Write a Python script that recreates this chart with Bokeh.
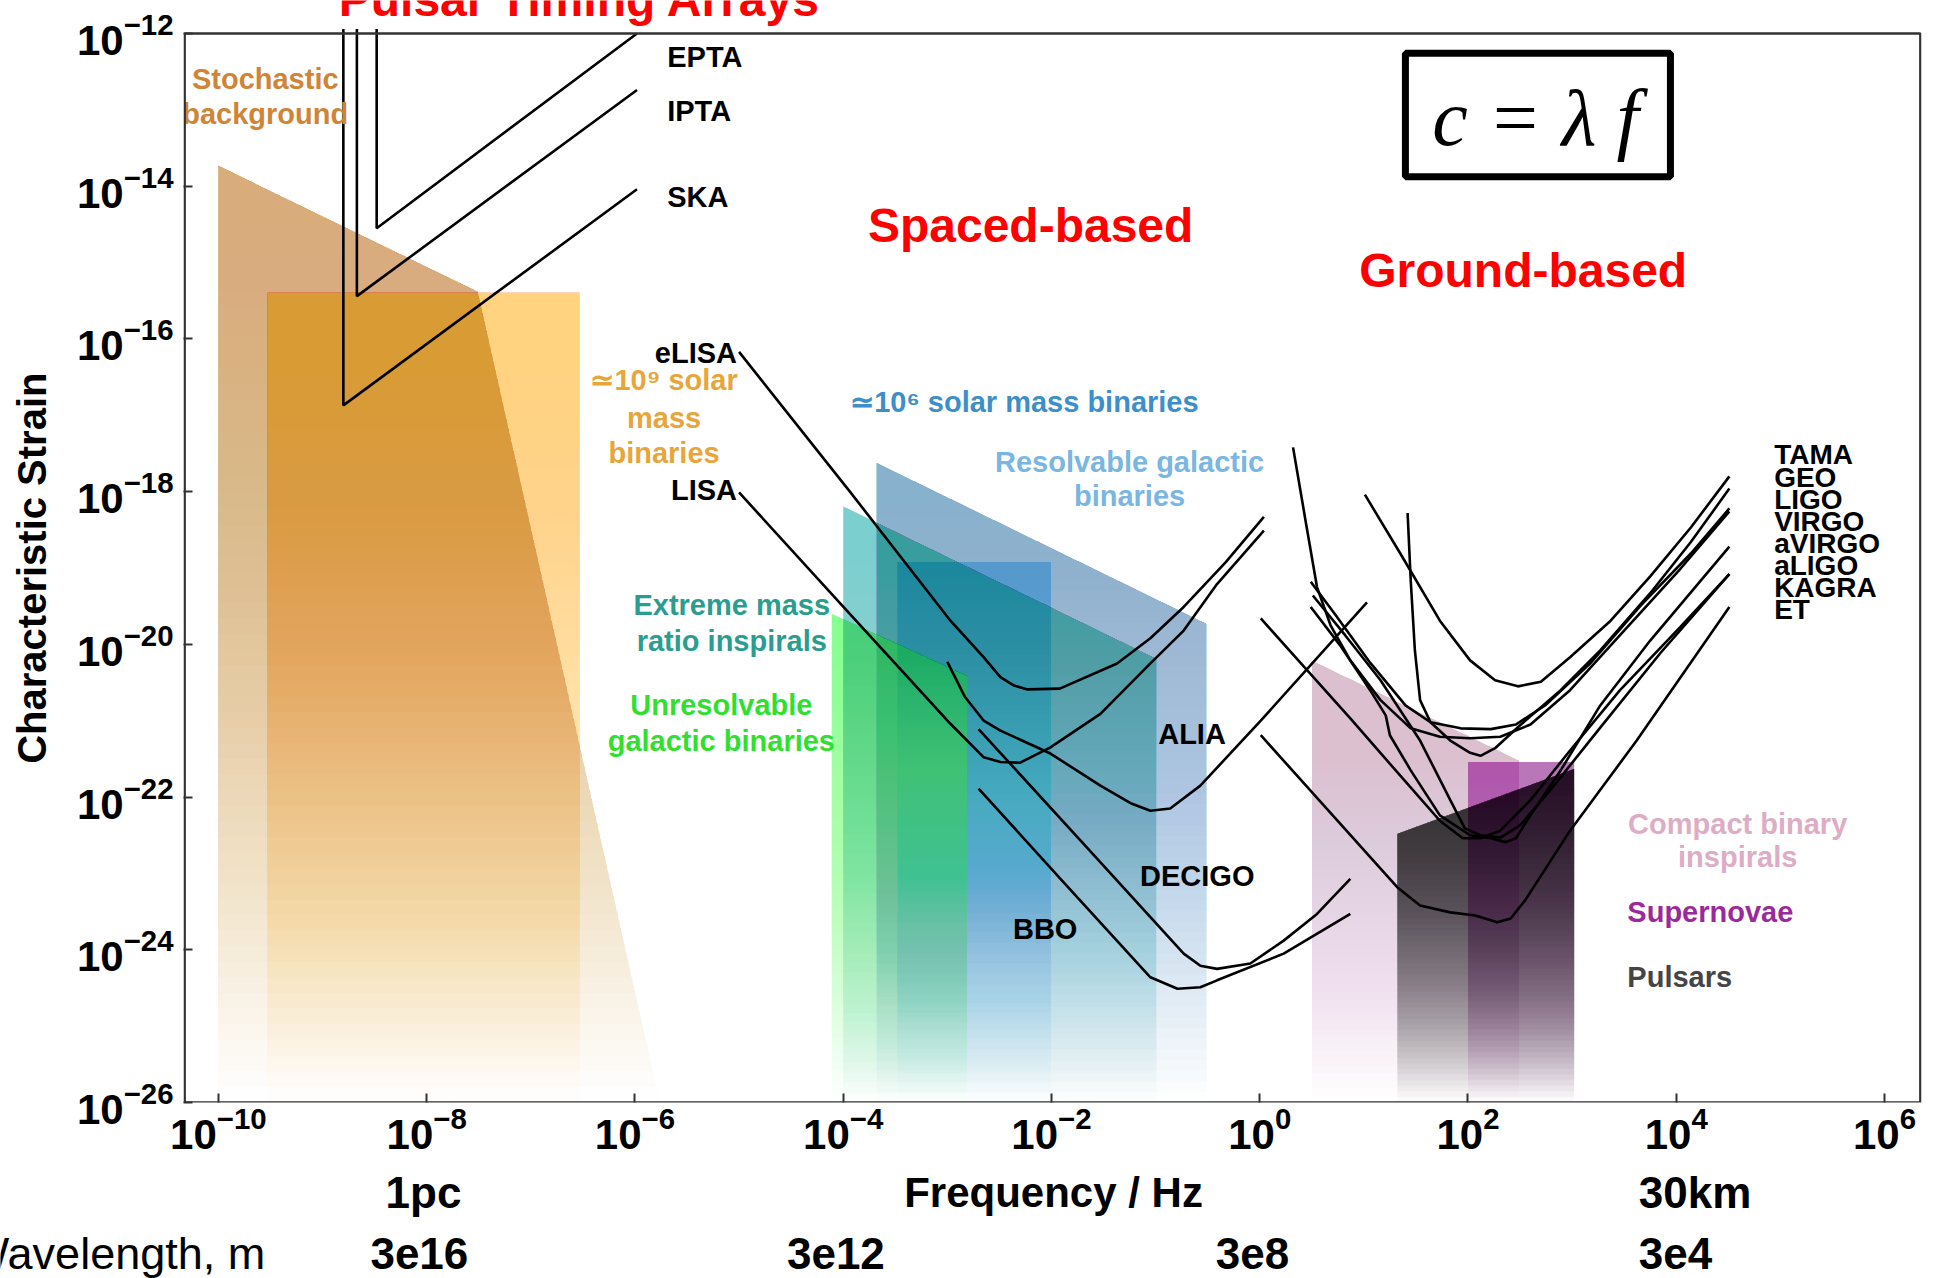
import numpy as np
from bokeh.plotting import figure
from bokeh.layouts import column
from bokeh.models import Label, BoxAnnotation, FixedTicker, Range1d, ColumnDataSource
from bokeh.embed import file_html
from bokeh.resources import INLINE

# ---------------- data: log10(frequency / Hz), log10(characteristic strain) -------------
X_RANGE_LOG = (-10.335, 6.355)      # plotted box
Y_RANGE_LOG = (-26.0, -12.0)
X_TICKS_LOG = [-10, -8, -6, -4, -2, 0, 2, 4, 6]
Y_TICKS_LOG = [-26, -24, -22, -20, -18, -16, -14, -12]

# source regions (polygons, bottom at the axis floor)
STOCH_F = [-10.0, -7.51, -5.76, -10.0]
STOCH_H = [-13.73, -15.38, -26.0, -26.0]
SMBH9_F = [-9.53, -6.53, -6.53, -9.53]
SMBH9_H = [-15.39, -15.39, -26.0, -26.0]
SMBH6_F = [-3.68, -0.51, -0.51, -3.68]
SMBH6_H = [-17.62, -19.73, -26.0, -26.0]
RGB_F = [-3.48, -2.00, -2.00, -3.48]
RGB_H = [-18.92, -18.92, -26.0, -26.0]
EMRI_F = [-4.00, -0.99, -0.99, -4.00]
EMRI_H = [-18.19, -20.19, -26.0, -26.0]
UGB_F = [-4.11, -2.81, -2.81, -4.11]
UGB_H = [-19.60, -20.41, -26.0, -26.0]
CBI_F = [0.50, 2.49, 2.49, 0.50]
CBI_H = [-20.21, -21.52, -26.0, -26.0]
SN_F = [2.00, 3.02, 3.02, 2.00]
SN_H = [-21.54, -21.54, -26.0, -26.0]
PSR_F = [1.32, 3.02, 3.02, 1.32]
PSR_H = [-22.48, -21.63, -26.0, -26.0]

# pulsar timing arrays
EPTA_F = [-8.48, -8.48, -5.98]
EPTA_H = [-11.94, -14.55, -12.0]
IPTA_F = [-8.67, -8.67, -5.98]
IPTA_H = [-11.94, -15.44, -12.74]
SKA_F = [-8.80, -8.80, -5.98]
SKA_H = [-11.94, -16.87, -14.04]

# space-based detectors
ELISA_F = [-5.00, -3.93, -2.97, -2.65, -2.49, -2.36, -2.23, -1.92, -1.37, -1.05, -0.73, -0.33, 0.04]
ELISA_H = [-16.17, -18.01, -19.69, -20.17, -20.43, -20.54, -20.59, -20.58, -20.25, -19.92, -19.51, -18.93, -18.33]
LISA_F = [-5.00, -3.93, -2.97, -2.65, -2.49, -2.30, -2.01, -1.53, -1.05, -0.73, -0.41, 0.04]
LISA_H = [-18.01, -19.61, -21.04, -21.48, -21.54, -21.55, -21.35, -20.91, -20.25, -19.82, -19.21, -18.51]
ALIA_F = [-3.00, -2.83, -2.65, -2.49, -2.01, -1.53, -1.24, -1.05, -0.86, -0.57, 0.01, 1.03]
ALIA_H = [-20.23, -20.69, -21.00, -21.13, -21.43, -21.85, -22.08, -22.18, -22.15, -21.85, -21.00, -19.45]
DECIGO_F = [-2.70, -1.72, -0.73, -0.57, -0.41, -0.09, 0.23, 0.55, 0.87]
DECIGO_H = [-21.11, -22.57, -24.05, -24.21, -24.25, -24.18, -23.88, -23.53, -23.07]
BBO_F = [-2.70, -1.92, -1.05, -0.79, -0.57, -0.41, 0.23, 0.87]
BBO_H = [-21.89, -23.06, -24.36, -24.51, -24.49, -24.40, -24.05, -23.53]

# ground-based detectors
TAMA_F = [1.01, 1.35, 1.73, 2.02, 2.26, 2.48, 2.70, 2.98, 3.37, 3.75, 4.14, 4.51]
TAMA_H = [-18.04, -18.81, -19.69, -20.21, -20.47, -20.55, -20.49, -20.17, -19.69, -19.11, -18.47, -17.80]
GEO_F = [1.42, 1.45, 1.49, 1.54, 1.64, 1.83, 2.02, 2.12, 2.26, 2.50, 2.89, 3.27, 3.75, 4.14, 4.51]
GEO_H = [-18.28, -19.16, -20.08, -20.73, -21.02, -21.26, -21.42, -21.46, -21.36, -21.06, -20.60, -20.08, -19.33, -18.66, -17.96]
LIGO_F = [0.49, 0.73, 1.06, 1.40, 1.64, 1.93, 2.22, 2.46, 2.74, 3.18, 3.66, 4.14, 4.51]
LIGO_H = [-19.18, -19.62, -20.24, -20.80, -21.02, -21.10, -21.11, -21.05, -20.80, -20.24, -19.49, -18.81, -18.22]
VIRGO_F = [0.32, 0.44, 0.55, 0.68, 0.87, 1.16, 1.45, 1.73, 2.02, 2.31, 2.60, 2.98, 3.46, 4.04, 4.51]
VIRGO_H = [-17.42, -18.38, -19.25, -19.75, -20.21, -20.73, -21.10, -21.21, -21.23, -21.21, -21.05, -20.60, -19.88, -19.01, -18.26]
AVIRGO_F = [0.49, 0.77, 1.06, 1.21, 1.25, 1.45, 1.73, 2.02, 2.22, 2.36, 2.46, 2.60, 2.89, 3.27, 3.75, 4.14, 4.51]
AVIRGO_H = [-19.51, -20.01, -20.60, -20.93, -21.19, -21.65, -22.24, -22.50, -22.54, -22.59, -22.54, -22.24, -21.65, -20.80, -19.95, -19.32, -18.72]
ALIGO_F = [0.01, 0.39, 0.87, 1.35, 1.73, 1.95, 2.12, 2.31, 2.60, 2.98, 3.46, 4.04, 4.51]
ALIGO_H = [-19.66, -20.24, -20.97, -21.72, -22.31, -22.54, -22.54, -22.44, -22.04, -21.39, -20.60, -19.77, -19.08]
KAGRA_F = [0.51, 0.82, 1.16, 1.54, 1.83, 1.97, 2.12, 2.31, 2.50, 2.79, 3.27, 3.85, 4.51]
KAGRA_H = [-19.36, -19.88, -20.47, -21.26, -22.04, -22.41, -22.50, -22.53, -22.37, -21.91, -21.09, -20.11, -19.08]
ET_F = [0.01, 1.32, 1.54, 1.83, 2.07, 2.28, 2.41, 2.55, 2.98, 3.62, 4.51]
ET_H = [-21.19, -23.18, -23.42, -23.51, -23.55, -23.64, -23.59, -23.35, -22.44, -21.26, -19.51]

GROUND_NAMES = ["TAMA", "GEO", "LIGO", "VIRGO", "aVIRGO", "aLIGO", "KAGRA", "ET"]
GROUND_LABEL_H = [-17.52, -17.81, -18.10, -18.39, -18.68, -18.97, -19.26, -19.55]

# wavelength annotations (position given as log10 frequency)
ROW1 = [("1pc", -8.03, "center"), ("Frequency / Hz", -1.98, "center"), ("30km", 3.64, "left")]
ROW2 = [("3e16", -8.07, "center"), ("3e12", -4.07, "center"), ("3e8", -0.07, "center"), ("3e4", 3.64, "left")]

# ---------------- helpers ----------------
FONT = "Liberation Sans"
W = 1935
PX_PER_DEC_X = 1738 / (X_RANGE_LOG[1] - X_RANGE_LOG[0])
PAGE_X_LOG = (X_RANGE_LOG[0] - 183 / PX_PER_DEC_X, X_RANGE_LOG[1] + 14 / PX_PER_DEC_X)
PX_PER_DEC_Y = 1069 / (Y_RANGE_LOG[1] - Y_RANGE_LOG[0])
TOP_LOG = Y_RANGE_LOG[1] + 33 / PX_PER_DEC_Y   # frame reaches the top of the page


def clip_below(fx, hy, lo):
    pts = list(zip(fx, hy))
    out = []
    for i in range(len(pts)):
        cur, prev = pts[i], pts[i - 1]
        cin, pin = cur[1] >= lo, prev[1] >= lo
        if cin != pin:
            t = (lo - prev[1]) / (cur[1] - prev[1])
            out.append((prev[0] + t * (cur[0] - prev[0]), lo))
        if cin:
            out.append(cur)
    return out


def faded_layers(fx, hy, alpha0, n=60, floor=-26.0, power=2.0):
    """stack of layers giving a vertical fade: full colour at the top, clear at the floor"""
    top = max(hy)
    edges = np.linspace(floor, top, n + 1)
    xs, ys, al = [], [], []
    prev_A = 0.0
    for j in range(n):
        mid = 0.5 * (edges[j] + edges[j + 1])
        t = (top - mid) / (top - floor)
        A = alpha0 * (1 - t ** power)
        a = 1 - (1 - A) / (1 - prev_A) if j > 0 else A
        prev_A = A
        poly = clip_below(fx, hy, edges[j])
        if len(poly) < 3 or a <= 0:
            continue
        xs.append([10 ** q[0] for q in poly])
        ys.append([10 ** q[1] for q in poly])
        al.append(a)
    return xs, ys, al


p = figure(width=W, height=1165, x_axis_type="log", y_axis_type="log",
           x_range=Range1d(10 ** X_RANGE_LOG[0], 10 ** X_RANGE_LOG[1]),
           y_range=Range1d(10 ** Y_RANGE_LOG[0], 10 ** TOP_LOG),
           output_backend="svg", toolbar_location=None,
           min_border_left=183, min_border_right=14, min_border_top=0, min_border_bottom=63)
p.frame_align = False
p.background_fill_color = "white"
p.border_fill_color = "white"
p.xgrid.visible = False
p.ygrid.visible = False
p.outline_line_color = None

regions = [
    (STOCH_F, STOCH_H, (218, 138, 66), 0.58),
    (SMBH9_F, SMBH9_H, (232, 160, 25), 0.40),
    (SMBH6_F, SMBH6_H, (60, 130, 190), 0.50),
    (RGB_F, RGB_H, (50, 135, 210), 0.25),
    (EMRI_F, EMRI_H, (20, 150, 130), 0.42),
    (UGB_F, UGB_H, (50, 225, 90), 0.50),
    (CBI_F, CBI_H, (200, 150, 175), 0.45),
    (SN_F, SN_H, (160, 40, 160), 0.55),
    (PSR_F, PSR_H, (10, 10, 10), 0.68),
]
for fx, hy, col, a0 in regions:
    xs, ys, al = faded_layers(fx, hy, a0)
    src = ColumnDataSource(dict(xs=xs, ys=ys, a=al))
    p.patches("xs", "ys", source=src, fill_color="#%02x%02x%02x" % col,
              fill_alpha="a", line_color=None)

curves = [(EPTA_F, EPTA_H), (IPTA_F, IPTA_H), (SKA_F, SKA_H),
          (ELISA_F, ELISA_H), (LISA_F, LISA_H), (ALIA_F, ALIA_H),
          (DECIGO_F, DECIGO_H), (BBO_F, BBO_H),
          (TAMA_F, TAMA_H), (GEO_F, GEO_H), (LIGO_F, LIGO_H), (VIRGO_F, VIRGO_H),
          (AVIRGO_F, AVIRGO_H), (ALIGO_F, ALIGO_H), (KAGRA_F, KAGRA_H), (ET_F, ET_H)]
p.multi_line(xs=[[10 ** v for v in f] for f, h in curves],
             ys=[[10 ** v for v in h] for f, h in curves],
             line_color="black", line_width=2.6)

# plot box
inset_x = 1.2 / PX_PER_DEC_X
p.add_layout(BoxAnnotation(left=10 ** (X_RANGE_LOG[0] + inset_x), right=10 ** (X_RANGE_LOG[1] - inset_x),
                           top=10 ** Y_RANGE_LOG[1], bottom=10 ** Y_RANGE_LOG[0],
                           fill_alpha=0, line_color="#333333", line_alpha=1, line_width=2.4,
                           level="overlay"))

# axes
p.xaxis.ticker = FixedTicker(ticks=[10.0 ** k for k in X_TICKS_LOG], minor_ticks=[])
p.yaxis.ticker = FixedTicker(ticks=[10.0 ** k for k in Y_TICKS_LOG], minor_ticks=[])
for ax in (p.xaxis, p.yaxis):
    ax.major_tick_in = 9
    ax.major_tick_out = 0
    ax.minor_tick_line_color = None
    ax.axis_line_color = None
    ax.major_tick_line_color = "#333333"
    ax.major_tick_line_width = 2
    ax.major_label_text_font = FONT
    ax.major_label_text_font_size = "42px"
    ax.major_label_text_font_style = "bold"
    ax.major_label_text_color = "black"
p.xaxis.major_label_standoff = 3
p.yaxis.major_label_standoff = 10
p.yaxis.axis_label = "Characteristic Strain\u00a0\u00a0\u00a0"
p.yaxis.axis_label_text_font = FONT
p.yaxis.axis_label_text_font_style = "bold"
p.yaxis.axis_label_text_font_size = "40px"
p.yaxis.axis_label_text_color = "black"
p.yaxis.axis_label_standoff = 20


def lab(fig, text, xv, yv, color="black", size=29, align="center", style="bold",
        baseline="middle", font=FONT):
    fig.add_layout(Label(x=xv, y=yv, text=text, text_color=color,
                         text_font=font, text_font_size="%dpx" % size,
                         text_font_style=style, text_align=align, text_baseline=baseline))


def L(text, lf, lh, **kw):
    lab(p, text, 10 ** lf, 10 ** lh, **kw)


RED = "#ff0000"
L("Pulsar Timing Arrays", -6.53, -11.55, color=RED, size=48)
L("Spaced-based", -2.20, -14.51, color=RED, size=48)
L("Ground-based", 2.53, -15.10, color=RED, size=48)

L("Stochastic", -9.55, -12.60, color="#cf8436")
L("background", -9.55, -13.06, color="#cf8436")
L("EPTA", -5.69, -12.31, align="left")
L("IPTA", -5.69, -13.01, align="left")
L("SKA", -5.69, -14.14, align="left")
L("eLISA", -5.02, -16.19, align="right")
L("LISA", -5.02, -17.98, align="right")
ORANGE = "#e8a63a"
L("\u224310\u2079 solar", -5.72, -16.54, color=ORANGE)
L("mass", -5.72, -17.03, color=ORANGE)
L("binaries", -5.72, -17.49, color=ORANGE)
L("\u224310\u2076 solar mass binaries", -2.26, -16.83, color="#3d8fc9")
L("Resolvable galactic", -1.25, -17.61, color="#7ab6e2")
L("binaries", -1.25, -18.06, color="#7ab6e2")
L("Extreme mass", -5.07, -19.49, color="#2a9d8f")
L("ratio inspirals", -5.07, -19.95, color="#2a9d8f")
L("Unresolvable", -5.17, -20.80, color="#30e030")
L("galactic binaries", -5.17, -21.26, color="#30e030")
L("ALIA", -0.65, -21.18)
L("DECIGO", -0.60, -23.04)
L("BBO", -2.06, -23.73)
for name, lh in zip(GROUND_NAMES, GROUND_LABEL_H):
    L(name, 4.94, lh, align="left", size=28)
L("Compact binary", 4.59, -22.35, color="#dcadc5")
L("inspirals", 4.59, -22.79, color="#dcadc5")
L("Supernovae", 3.53, -23.51, color="#9a2a9a", align="left")
L("Pulsars", 3.53, -24.36, color="#454545", align="left")

# equation box
p.add_layout(BoxAnnotation(left=10 ** 1.399, right=10 ** 3.944, top=10 ** -12.258,
                           bottom=10 ** -13.876, fill_alpha=0, line_color="black",
                           line_alpha=1, line_width=7))
L("c = \u03bb f", 2.648, -13.11, size=80, style="italic", font="Liberation Serif")

# strip below the axis: frequency-axis title and wavelength equivalents
q = figure(width=W, height=113, x_range=Range1d(*PAGE_X_LOG), y_range=Range1d(0, 1),
           output_backend="svg", toolbar_location=None,
           x_axis_location=None, y_axis_location=None,
           min_border_left=0, min_border_right=0, min_border_top=0, min_border_bottom=0)
q.frame_align = False
q.outline_line_color = None
q.xgrid.visible = False
q.ygrid.visible = False
q.background_fill_color = "white"
q.border_fill_color = "white"
for text, lf, align in ROW1:
    lab(q, text, lf, 0.76, size=42 if text == "Frequency / Hz" else 44, align=align)
for text, lf, align in ROW2:
    lab(q, text, lf, 0.22, size=44, align=align)
lab(q, "Wavelength, m", -9.55, 0.22, size=45, align="right", style="normal")

layout = column(p, q, spacing=0)
open("out.html", "w").write(file_html(layout, INLINE))
